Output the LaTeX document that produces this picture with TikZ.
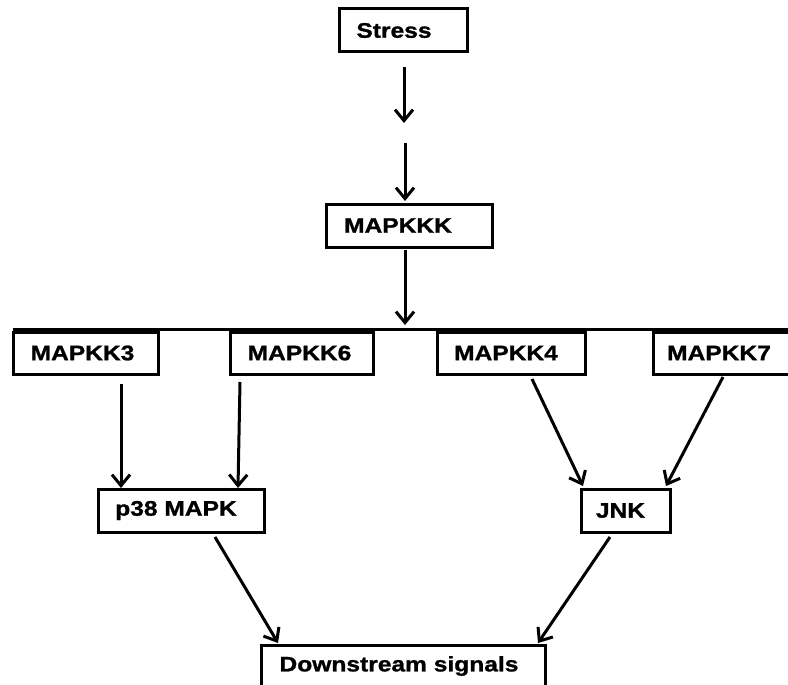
\documentclass[tikz,border=0pt]{standalone}
\usepackage{fontspec}
\setmainfont{Liberation Sans}[FakeStretch=1.17, BoldFeatures={FakeBold=1.2}]
\usetikzlibrary{arrows.meta}
\begin{document}
\begin{tikzpicture}[x=1pt,y=-1pt,
  box/.style={draw=black, line width=3pt, minimum height=43pt, inner sep=0pt},
  lbl/.style={font=\fontsize{21}{25}\selectfont\bfseries, text=black},
  arr/.style={line width=3pt, -{Straight Barb[length=11pt,width=18pt]}},
  bus/.style={line width=3.5pt}]
\useasboundingbox (0,0) rectangle (788,685);
% boxes
\node[box, minimum width=128pt, label={[lbl,xshift=-9pt]center:Stress}] (stress) at (403,30.5) {};
\node[box, minimum width=166pt, label={[lbl,xshift=-11pt]center:MAPKKK}] (mapkkk) at (409,225.5) {};
\node[box, minimum width=145pt, minimum height=42pt, label={[lbl,xshift=-3pt]center:MAPKK3}] (mk3) at (85.5,353) {};
\node[box, minimum width=143pt, minimum height=42pt, label={[lbl,xshift=-2pt]center:MAPKK6}] (mk6) at (301.5,353) {};
\node[box, minimum width=148pt, minimum height=42pt, label={[lbl,xshift=-5pt]center:MAPKK4}] (mk4) at (511,353) {};
\node[box, minimum width=138pt, minimum height=42pt, label={[lbl,xshift=-3pt]center:MAPKK7}] (mk7) at (722,353) {};
\node[box, minimum width=166pt, label={[lbl,xshift=-5pt]center:p38 MAPK}] (p38) at (181,510.5) {};
\node[box, minimum width=89pt, label={[lbl,xshift=-5pt]center:JNK}] (jnk) at (625.5,510.5) {};
\node[box, minimum width=284pt, minimum height=42pt, label={[lbl,xshift=-4pt]center:Downstream signals}] (down) at (403,666) {};
% connector end points
\coordinate (a1s) at (404,67);
\coordinate (a1e) at (404,123);
\coordinate (a2s) at (405,143);
\coordinate (a2e) at (405,201);
\coordinate (a3s) at (405,250);
\coordinate (a3e) at (405,325);
\coordinate (busL) at (13,329.5);
\coordinate (busR) at (790,329.5);
\coordinate (k3s) at (121,384);
\coordinate (k3e) at (121,488);
\coordinate (k6s) at (240,382);
\coordinate (k6e) at (238,488);
\coordinate (k4s) at (532,379);
\coordinate (k4e) at (583,486);
\coordinate (k7s) at (723,377);
\coordinate (k7e) at (666,486);
\coordinate (ps) at (215,537);
\coordinate (pe) at (278,643);
\coordinate (js) at (610,537);
\coordinate (je) at (538,643);
% connectors
\draw[arr] (a1s) -- (a1e);
\draw[arr] (a2s) -- (a2e);
\draw[arr] (a3s) -- (a3e);
\draw[bus] (busL) -- (busR);
\draw[arr] (k3s) -- (k3e);
\draw[arr] (k6s) -- (k6e);
\draw[arr] (k4s) -- (k4e);
\draw[arr] (k7s) -- (k7e);
\draw[arr] (ps) -- (pe);
\draw[arr] (js) -- (je);
\end{tikzpicture}
\end{document}
